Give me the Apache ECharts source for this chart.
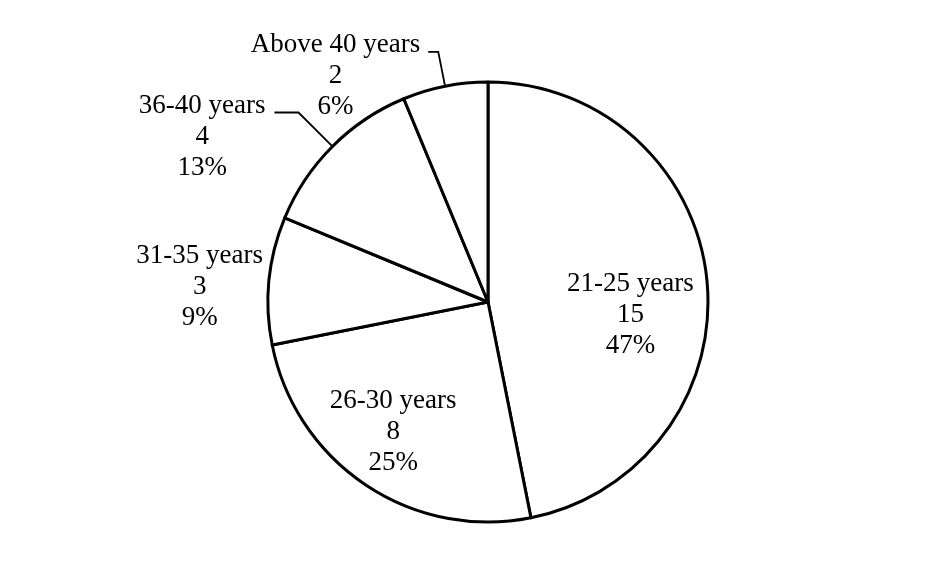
<!DOCTYPE html>
<html>
<head>
<meta charset="utf-8">
<script src="https://cdn.jsdelivr.net/npm/echarts@6/dist/echarts.min.js"></script>
<style>
  html, body { margin: 0; padding: 0; background: #ffffff; }
  #chart { width: 951px; height: 586px; }
</style>
</head>
<body>
<div id="chart"></div>
<script>
// Age groups and number of respondents in each
const categories = ['21-25 years', '26-30 years', '31-35 years', '36-40 years', 'Above 40 years'];
const counts = [15, 8, 3, 4, 2];

const total = counts.reduce((a, b) => a + b, 0);

// How each slice label is placed
const labelPlacement = [
  { inside: true, dx: 30, dy: 24 },
  { inside: true, dx: -32, dy: 36 },
  { inside: false, line: false, len: 0, len2: 0, gap: 6, padTop: 13 },
  { inside: false, line: true, len: 48, len2: 24, gap: 9, padTop: 48 },
  { inside: false, line: true, len: 35, len2: 10, gap: 8, padTop: 48 }
];

const seriesData = categories.map((name, i) => {
  const p = labelPlacement[i];
  const item = { name: name, value: counts[i] };
  if (p.inside) {
    item.label = { position: 'inside' };
    item.labelLine = { show: false };
  } else {
    item.label = { position: 'outside', distanceToLabelLine: p.gap, padding: [p.padTop, 0, 0, 0] };
    item.labelLine = { show: p.line, length: p.len, length2: p.len2 };
  }
  return item;
});

const chart = echarts.init(document.getElementById('chart'), null, { renderer: 'canvas' });

chart.setOption({
  backgroundColor: '#ffffff',
  animation: false,
  series: [{
    type: 'pie',
    center: [488, 302],
    radius: 220,
    startAngle: 90,
    clockwise: true,
    avoidLabelOverlap: false,
    data: seriesData,
    itemStyle: {
      color: '#ffffff',
      borderColor: '#000000',
      borderWidth: 3
    },
    emphasis: { disabled: true },
    label: {
      fontFamily: 'Liberation Serif',
      fontSize: 27,
      color: '#000000',
      formatter: (params) => {
        const pct = Math.round(params.value / total * 100);
        return '{c|' + params.name + '}\n{c|' + params.value + '}\n{c|' + pct + '%}';
      },
      rich: {
        c: {
          align: 'center',
          fontFamily: 'Liberation Serif',
          fontSize: 27,
          lineHeight: 31,
          color: '#000000'
        }
      }
    },
    labelLine: {
      lineStyle: { color: '#000000', width: 1.8 }
    },
    labelLayout: (params) => {
      const p = labelPlacement[params.dataIndex];
      if (p.inside) {
        return { dx: p.dx, dy: p.dy };
      }
      return {};
    }
  }]
});
</script>
</body>
</html>
